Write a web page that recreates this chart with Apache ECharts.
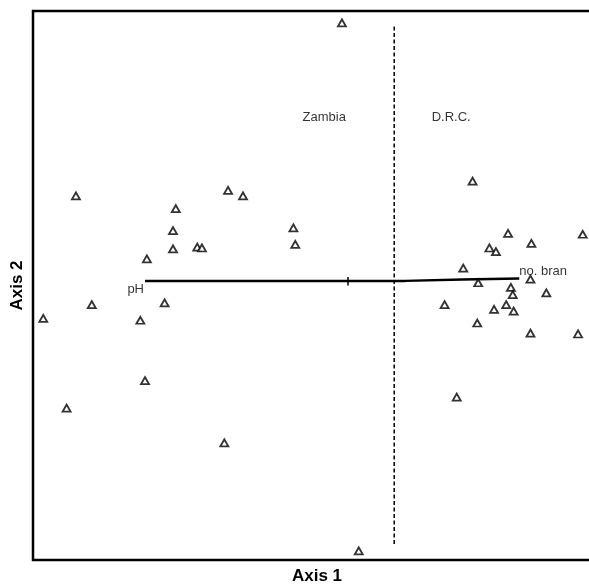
<!DOCTYPE html>
<html>
<head>
<meta charset="utf-8">
<script src="https://cdn.jsdelivr.net/npm/echarts@6/dist/echarts.min.js"></script>
<style>
  html, body { margin: 0; padding: 0; background: #fff; }
  #chart { width: 589px; height: 584px; }
</style>
</head>
<body>
<div id="chart"></div>
<script>
// site scores (axis 1, axis 2)
var axis1 = [-2.54, -0.91, -0.75, -1.47, -1.50, -0.21, -1.50, -1.24, -1.19, -0.19,
             -1.78, -2.89, -2.37, -1.59, -1.85, -1.80, -2.64, -0.95, 0.31, 0.49,
             1.71, 2.09, 2.89, 2.34, 1.89, 1.96, 1.61, 1.77, 2.33, 2.12,
             2.14, 2.50, 1.41, 1.94, 2.07, 2.15, 1.76, 2.33, 2.84, 1.54];
var axis2 = [0.98, 1.04, 0.98, 0.84, 0.60, 0.63, 0.40, 0.42, 0.41, 0.45,
             0.29, -0.36, -0.21, -0.19, -0.38, -1.04, -1.34, -1.72, 2.87, -2.90,
             1.14, 0.57, 0.56, 0.46, 0.41, 0.37, 0.19, 0.03, 0.07, -0.02,
             -0.10, -0.08, -0.21, -0.26, -0.21, -0.28, -0.41, -0.52, -0.53, -1.22];

// environmental vector line (pH end -> no. bran end)
var vectorX = [-1.80, 0.99, 0.99, 1.60, 1.60, 2.21];
var vectorY = [0.05, 0.05, 0.066, 0.066, 0.077, 0.077];
var vectorNames = ['pH', 'no. bran'];
var vectorLabelX = [-1.80, 2.21];
var vectorLabelY = [0.05, 0.077];
var centreTickX = [0.375, 0.375];
var centreTickY = [0.093, 0.0];

// country divider
var dividerX = [0.87, 0.87];
var dividerY = [2.83, -2.85];
var regionNames = ['Zambia', 'D.R.C.'];
var regionX = [0.12, 1.48];
var regionY = [1.84, 1.84];

var font = 'Liberation Sans, Arial, sans-serif';

var sites = axis1.map(function (x, i) { return [x, axis2[i]]; });

var chart = echarts.init(document.getElementById('chart'));
chart.setOption({
    animation: false,
    grid: {
        left: 33, top: 11, right: -4, bottom: 24,
        outerBoundsMode: 'none',
        show: true, borderColor: '#000', borderWidth: 2.5
    },
    xAxis: {
        type: 'value', min: -3, max: 3,
        name: 'Axis 1', nameLocation: 'middle', nameGap: 8,
        nameTextStyle: { fontFamily: font, fontSize: 17, fontWeight: 'bold', color: '#000', padding: [0, 0, 0, 8] },
        axisLine: { show: false }, axisTick: { show: false },
        axisLabel: { show: false }, splitLine: { show: false }
    },
    yAxis: {
        type: 'value', min: -3, max: 3,
        name: 'Axis 2', nameLocation: 'middle', nameGap: 7,
        nameTextStyle: { fontFamily: font, fontSize: 17, fontWeight: 'bold', color: '#000' },
        axisLine: { show: false }, axisTick: { show: false },
        axisLabel: { show: false }, splitLine: { show: false }
    },
    series: [
        {
            type: 'line', data: dividerX.map(function (x, i) { return [x, dividerY[i]]; }),
            symbol: 'none', lineStyle: { color: '#000', width: 1.5, type: [4, 2.5] }
        },
        {
            type: 'line', data: vectorX.map(function (x, i) { return [x, vectorY[i]]; }),
            symbol: 'none', lineStyle: { color: '#000', width: 2.4 }
        },
        {
            type: 'line', data: centreTickX.map(function (x, i) { return [x, centreTickY[i]]; }),
            symbol: 'none', lineStyle: { color: '#000', width: 1.5 }
        },
        {
            type: 'scatter', symbolSize: 0, silent: true,
            data: [
                { name: vectorNames[0], value: [vectorLabelX[0], vectorLabelY[0]],
                  label: { position: 'left', distance: 1, offset: [0, 8] } },
                { name: vectorNames[1], value: [vectorLabelX[1], vectorLabelY[1]],
                  label: { position: 'right', distance: 0, offset: [0, -7] } }
            ],
            label: { show: true, formatter: '{b}', color: '#000', fontFamily: font, fontSize: 13 }
        },
        {
            type: 'scatter', symbolSize: 0, silent: true,
            data: regionNames.map(function (n, i) { return { name: n, value: [regionX[i], regionY[i]] }; }),
            label: { show: true, position: 'inside', formatter: '{b}', color: '#000', fontFamily: font, fontSize: 13 }
        },
        {
            type: 'scatter', data: sites, symbol: 'triangle', symbolSize: [8, 7],
            itemStyle: { color: '#fff', borderColor: '#000', borderWidth: 1.8 },
            z: 5
        }
    ]
});
</script>
</body>
</html>
